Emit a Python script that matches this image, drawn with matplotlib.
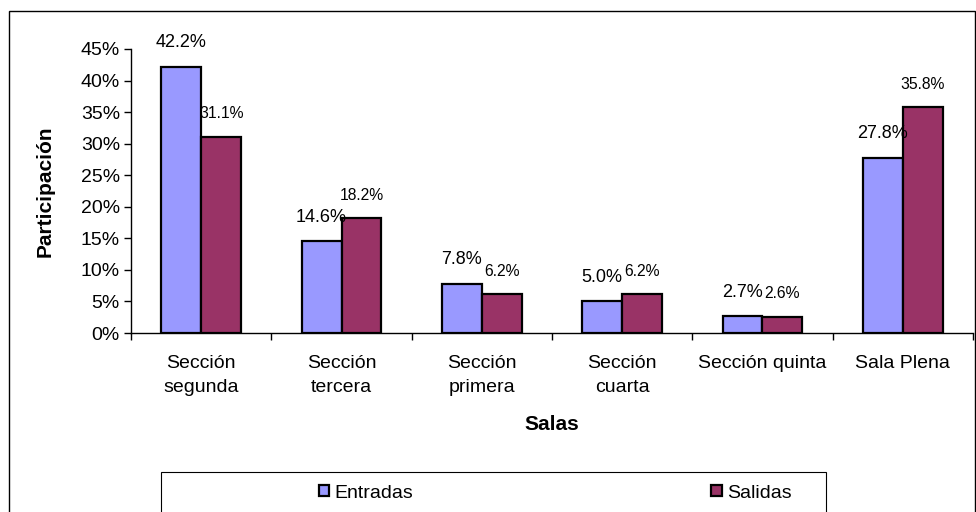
import matplotlib
matplotlib.use('Agg')
import matplotlib.pyplot as plt
from matplotlib.patches import Rectangle
from matplotlib.ticker import PercentFormatter
import numpy as np

plt.rcParams['font.family'] = ['Liberation Sans', 'DejaVu Sans']

salas = ['Sección\nsegunda', 'Sección\ntercera', 'Sección\nprimera',
         'Sección\ncuarta', 'Sección quinta', 'Sala Plena']
entradas = [42.2, 14.6, 7.8, 5.0, 2.7, 27.8]
salidas = [31.1, 18.2, 6.2, 6.2, 2.6, 35.8]

c_ent = '#9999FF'
c_sal = '#993366'

fig = plt.figure(figsize=(9.76, 5.12), dpi=100)
ax = fig.add_axes([131/976, 1 - 333/512, (973 - 131)/976, (333 - 49)/512])

x = np.arange(len(salas))
w = 0.285
b1 = ax.bar(x - w/2, entradas, w, color=c_ent, edgecolor='black', linewidth=1.6, label='Entradas')
b2 = ax.bar(x + w/2, salidas, w, color=c_sal, edgecolor='black', linewidth=1.6, label='Salidas')

for r, v in zip(b1, entradas):
    ax.annotate('%.1f%%' % v, (r.get_x() + r.get_width()/2, v), xytext=(0, 11),
                textcoords='offset points', ha='center', va='bottom', fontsize=13)
for r, v in zip(b2, salidas):
    ax.annotate('%.1f%%' % v, (r.get_x() + r.get_width()/2, v), xytext=(0, 11),
                textcoords='offset points', ha='center', va='bottom', fontsize=11.3)

ax.set_xlim(-0.5, len(salas) - 0.5)
ax.set_ylim(0, 45)
ax.set_yticks(np.arange(0, 46, 5))
ax.yaxis.set_major_formatter(PercentFormatter(decimals=0))
ax.set_xticks(x)
ax.set_xticklabels(salas, fontsize=14, linespacing=1.5)
ax.set_xticks(np.arange(-0.5, len(salas)), minor=True)
ax.tick_params(axis='x', which='major', length=0, pad=16)
ax.tick_params(axis='x', which='minor', length=5, width=1, direction='out')
ax.tick_params(axis='y', labelsize=14, length=5, width=1, direction='out', pad=3)

for s in ['top', 'right']:
    ax.spines[s].set_visible(False)
ax.spines['left'].set_linewidth(1)
ax.spines['bottom'].set_linewidth(1)

ax.set_ylabel('Participación', fontsize=15, fontweight='bold', va='center')
ax.set_xlabel('Salas', fontsize=15, fontweight='bold', va='center')
ax.yaxis.set_label_coords((45 - 131)/842, 0.5)
ax.xaxis.set_label_coords(0.5, (333 - 425)/284)

# outer chart border
fig.patches.append(Rectangle((9/976, -0.05), (975 - 9)/976, 1.05 - 11/512,
                             transform=fig.transFigure, fill=False,
                             edgecolor='black', linewidth=1))
# legend box
fig.patches.append(Rectangle((161/976, -0.05), (826 - 161)/976, 0.05 + 1 - 472/512,
                             transform=fig.transFigure, fill=False,
                             edgecolor='black', linewidth=0.8))

leg = fig.legend(handles=[b1, b2], loc='center left', bbox_to_anchor=(301/976, 1 - 493/512),
                 ncol=2, frameon=False, fontsize=14, handlelength=0.55, handleheight=0.55,
                 handletextpad=0.25, columnspacing=15.35)

plt.savefig('out.png', dpi=100)
